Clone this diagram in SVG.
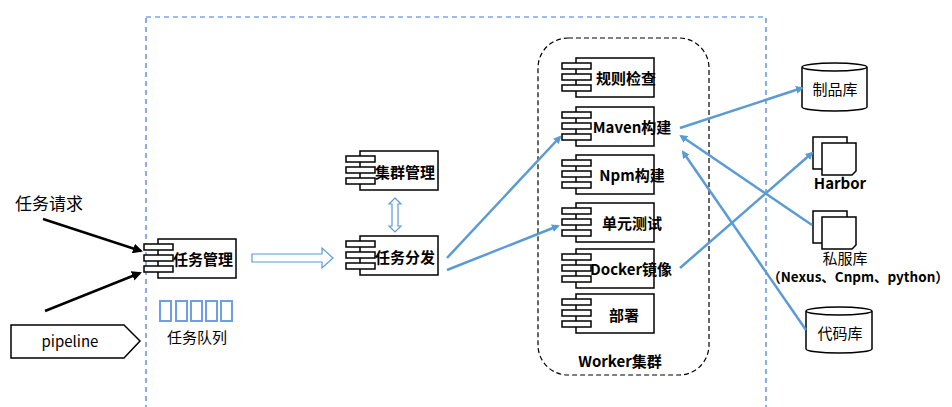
<svg xmlns="http://www.w3.org/2000/svg" width="952" height="407" viewBox="0 0 952 407">
<style>
.b{fill:#fff;stroke:#000;stroke-width:1.5}
.t{font-family:"Noto Sans CJK SC","Noto Sans",sans-serif;font-size:15px;font-weight:bold;fill:#000}
.n{font-family:"Noto Sans CJK SC","Noto Sans",sans-serif;font-size:15px;fill:#000}
.bl{stroke:#5b9bd5;stroke-width:2.5;fill:none;marker-end:url(#ab)}
.k{stroke:#000;stroke-width:2.5;fill:none;marker-end:url(#ak)}
</style>
<defs>
<marker id="ab" markerWidth="8" markerHeight="8" refX="6" refY="4" orient="auto" markerUnits="userSpaceOnUse" viewBox="0 0 8 8"><path d="M0,0 L8,4 L0,8 z" fill="#5b9bd5"/></marker>
<marker id="ak" markerWidth="10" markerHeight="10" refX="8" refY="5" orient="auto" markerUnits="userSpaceOnUse" viewBox="0 0 10 10"><path d="M0,0 L10,5 L0,10 z" fill="#000"/></marker>
<g id="comp"><rect class="b" x="14" y="0" width="78" height="39"/><rect class="b" x="0" y="5" width="29" height="6"/><rect class="b" x="0" y="16" width="29" height="6"/><rect class="b" x="0" y="27" width="29" height="6"/></g>
<g id="doc"><path class="b" d="M0,0h34v28l-4,4h-30z"/><path class="b" d="M9,6h34v28l-4,4h-30z"/></g>
</defs>
<rect x="146" y="17" width="620" height="400" fill="none" stroke="#3c78d8" stroke-width="1.2" stroke-dasharray="5,4"/>
<rect x="538" y="38" width="171" height="337" rx="30" fill="none" stroke="#000" stroke-width="1.2" stroke-dasharray="5,3"/>
<g id="req"><text class="n" x="15" y="210" style="font-size:17px">任务请求</text></g>
<g id="pipeline"><path class="b" d="M11,325H124L140,341L124,358H11z"/><text class="n" x="70" y="347" text-anchor="middle">pipeline</text></g>
<g id="taskmgr"><use href="#comp" x="144" y="239"/><text class="t" x="203" y="265" text-anchor="middle">任务管理</text></g>
<g id="queue" fill="none" stroke="#6d9eeb" stroke-width="2"><rect x="160" y="301" width="11" height="20"/><rect x="176" y="301" width="11" height="20"/><rect x="191" y="301" width="11" height="20"/><rect x="206" y="301" width="11" height="20"/><rect x="221" y="301" width="11" height="20"/></g>
<text class="n" x="197" y="343" text-anchor="middle">任务队列</text>
<g id="cluster"><use href="#comp" x="346" y="151"/><text class="t" x="405" y="178" text-anchor="middle">集群管理</text></g>
<g id="dispatch"><use href="#comp" x="346" y="236"/><text class="t" x="405" y="263" text-anchor="middle">任务分发</text></g>
<g id="w1"><use href="#comp" x="562" y="58"/><text class="t" x="626" y="84" text-anchor="middle">规则检查</text></g>
<g id="w2"><use href="#comp" x="562" y="107"/><text class="t" x="632" y="133" text-anchor="middle">Maven构建</text></g>
<g id="w3"><use href="#comp" x="562" y="155"/><text class="t" x="632" y="181" text-anchor="middle">Npm构建</text></g>
<g id="w4"><use href="#comp" x="562" y="203"/><text class="t" x="632" y="229" text-anchor="middle">单元测试</text></g>
<g id="w5"><use href="#comp" x="562" y="249"/><text class="t" x="631" y="275" text-anchor="middle">Docker镜像</text></g>
<g id="w6"><use href="#comp" x="562" y="294"/><text class="t" x="624" y="321" text-anchor="middle">部署</text></g>
<text class="t" x="620" y="367" text-anchor="middle">Worker集群</text>
<g id="artifact"><path class="b" d="M802,67v40a32.5,4 0 0 0 65,0v-40a32.5,4 0 0 0 -65,0a32.5,4 0 0 0 65,0"/><text class="n" x="835" y="95" text-anchor="middle">制品库</text></g>
<g id="harbor"><use href="#doc" x="813" y="137"/><text class="t" x="840" y="189" text-anchor="middle">Harbor</text></g>
<g id="private"><use href="#doc" x="813" y="211"/><text class="n" x="845" y="264" text-anchor="middle">私服库</text><text class="t" x="858" y="282" text-anchor="middle" style="font-size:13.5px">（Nexus、Cnpm、python）</text></g>
<g id="code"><path class="b" d="M806,311v38a33,4 0 0 0 66,0v-38a33,4 0 0 0 -66,0a33,4 0 0 0 66,0"/><text class="n" x="840" y="339" text-anchor="middle">代码库</text></g>
<g id="connectors">
<path class="k" d="M43,219L141,251"/>
<path class="k" d="M45,311L140,273"/>
<path d="M252,254h70v-6l11,10l-11,10v-6h-70z" fill="none" stroke="#5b9bd5" stroke-width="1.2"/>
<path d="M395,198l6,6h-3v22h3l-6,6l-6,-6h3v-22h-3z" fill="none" stroke="#5b9bd5" stroke-width="1.2"/>
<path class="bl" d="M447,258L560,137"/>
<path class="bl" d="M447,270L558,226"/>
<path class="bl" d="M680,128L802,88"/>
<path class="bl" d="M680,268L812,153"/>
<path class="bl" d="M812,225L681,136"/>
<path class="bl" d="M806,330L683,152"/>
</g>
</svg>
